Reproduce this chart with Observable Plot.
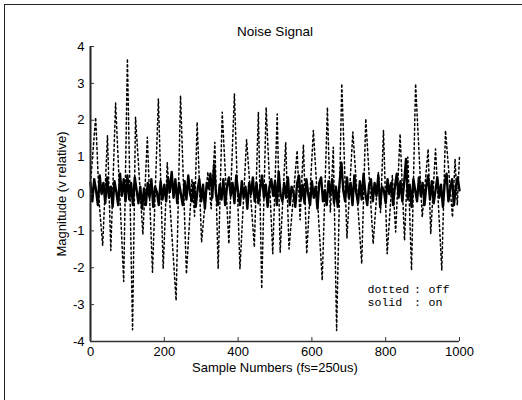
<!DOCTYPE html>
<html><head><meta charset="utf-8">
<script src="https://cdn.jsdelivr.net/npm/d3@7"></script>
<script src="https://cdn.jsdelivr.net/npm/@observablehq/plot@0.6"></script>
<style>
body{margin:0;background:#fff;}
#wrap{position:relative;width:522px;height:400px;overflow:hidden;}
#frame{position:absolute;left:4px;top:4px;width:530px;height:410px;border-top:1.5px solid #222;border-left:1px solid #222;pointer-events:none;}
</style></head><body>
<div id="wrap"><div id="chart"></div><div id="frame"></div></div>
<script>
const title = "Noise Signal";
const xLabel = "Sample Numbers (fs=250us)";
const yLabel = "Magnitude (v relative)";
const xTicks = [0, 200, 400, 600, 800, 1000];
const yTicks = [-4, -3, -2, -1, 0, 1, 2, 3, 4];
const legendKeys = ["dotted", "solid"];
const legendVals = ["off", "on"];

// dotted ("off") signal: sample numbers and magnitudes read at its turning points
const dottedX = [0,14,24,33,46,55,68,90,100,114,122,142,154,168,184,197,208,232,244,260,275,282,289,301,318,327,337,346,357,375,390,405,423,444,455,464,476,494,506,514,529,538,560,568,577,586,604,628,642,650,658,667,681,695,711,735,746,766,780,786,794,804,818,827,839,851,860,870,881,899,915,922,935,952,962,981,988,994,1000];
const dottedY = [0.3,2.08,-0.3,-1.4,1.58,-1.53,2.47,-2.37,3.67,-3.68,2.08,-1.1,1.54,-2.12,2.58,-2.03,0.85,-2.89,2.67,-2.17,0.4,-0.6,1.95,-1.31,0.6,-0.4,1.4,-2.03,2.22,-1.35,2.72,-2.03,1.47,-1.44,2.22,-2.57,2.35,-1.62,2.17,-1.58,1.4,-1.49,1.18,-0.7,1.34,-1.62,1.72,-2.34,2.35,-0.5,1.27,-3.7,2.99,-1.2,1.68,-1.89,2.04,-1.35,0.6,-0.5,1.72,-1.62,0.5,-1.03,1.63,-1.26,1.0,-2.07,2.99,-0.63,1.22,-1.08,1.22,-2.07,1.72,-0.63,0.95,-0.3,1.02];

// solid ("on") signal: magnitudes read every 5 samples
const solidStep = 5;
const solidY = [
 0.3,-0.2,0.4,0.1,-0.3,0.5,0.0,0.3,-0.25,0.45,
 -0.1,0.2,-0.35,0.35,0.05,-0.3,0.55,-0.05,0.4,-0.2,
 0.5,-0.15,0.3,-0.3,0.45,0.1,-0.25,0.2,-0.4,0.15,
 -0.3,0.3,-0.1,0.4,-0.35,0.2,0.05,-0.3,0.35,-0.15,
 0.25,-0.2,0.45,0.05,0.6,-0.1,0.4,-0.25,0.3,0.0,
 -0.3,0.35,-0.15,0.5,0.0,-0.2,0.3,-0.35,0.1,0.4,
 -0.2,0.25,-0.4,0.3,0.15,0.55,-0.1,0.8,0.0,-0.3,
 0.25,-0.15,0.4,-0.3,0.2,0.45,-0.05,0.3,-0.25,0.5,
 0.05,-0.3,0.35,-0.1,0.2,-0.4,0.3,0.0,0.45,-0.2,
 0.3,-0.25,0.15,0.5,-0.1,0.25,-0.35,0.2,0.4,-0.05,
 0.35,-0.3,0.6,0.0,-0.2,0.3,-0.1,0.45,-0.3,0.2,
 0.05,-0.35,0.3,0.5,-0.15,0.25,-0.25,0.4,0.0,-0.3,
 0.35,-0.1,0.2,-0.4,0.3,0.45,-0.2,0.1,-0.3,0.35,
 0.0,0.4,-0.25,0.2,-0.35,0.3,0.85,0.1,-0.2,0.45,
 -0.1,0.3,-0.3,0.5,0.05,-0.25,0.35,-0.15,0.55,0.0,
 -0.3,0.25,0.4,-0.2,0.3,-0.05,0.5,-0.35,0.2,0.1,
 -0.25,0.4,0.0,0.3,-0.3,0.2,0.55,-0.1,0.35,-0.2,
 0.3,0.95,-0.15,0.25,-0.35,0.4,0.1,-0.2,0.45,-0.05,
 0.3,-0.3,0.2,0.5,-0.15,0.35,-0.25,0.1,0.45,-0.1,
 0.25,-0.35,0.3,0.55,-0.2,0.15,0.4,-0.3,0.2,0.45,
 0.1];

const dotted = dottedX.map((x, i) => ({x, y: dottedY[i]}));
const solid = solidY.map((y, i) => ({x: i * solidStep, y}));

const W = 522, H = 400, mL = 90, mR = 63, mT = 46, mB = 59;
const plotW = W - mL - mR, plotH = H - mT - mB;
const mono = "'Liberation Mono', 'DejaVu Sans Mono', monospace";
const legendText = (data, dx, dy) => Plot.text(data, {frameAnchor: "top-left", lineAnchor: "middle", textAnchor: "start", dx, dy, text: d => d, fontFamily: mono, fontSize: 11.6});

const chart = Plot.plot({
  width: W, height: H,
  marginLeft: mL, marginRight: mR, marginTop: mT, marginBottom: mB,
  style: {fontFamily: "'Liberation Sans', Arial, sans-serif", fontSize: "13px", background: "transparent"},
  x: {domain: [0, 1000]},
  y: {domain: [-4, 4]},
  marks: [
    Plot.line(dotted, {x: "x", y: "y", stroke: "#000", strokeWidth: 1.5, strokeDasharray: "2,2.8"}),
    Plot.line(solid, {x: "x", y: "y", stroke: "#000", strokeWidth: 2.4}),
    Plot.ruleX([0], {y1: -4, y2: 4, stroke: "#222", strokeWidth: 2}),
    Plot.ruleY([-4], {x1: 0, x2: 1000, stroke: "#333", strokeWidth: 1.5}),
    Plot.tickY(yTicks, {y: d => d, insetRight: plotW - 4, stroke: "#333"}),
    Plot.tickX(xTicks, {x: d => d, insetTop: plotH - 4, stroke: "#333"}),
    Plot.axisY(yTicks, {tickSize: 0, tickPadding: 6, tickFormat: d => String(d), label: yLabel, labelAnchor: "center", labelOffset: 34, labelArrow: "none"}),
    Plot.axisX(xTicks, {tickSize: 0, tickPadding: 5, tickFormat: d => String(d), label: xLabel, labelAnchor: "center", labelOffset: 30, labelArrow: "none"}),
    Plot.text([title], {frameAnchor: "top", lineAnchor: "middle", dy: -14.5, fontSize: 13.5, text: d => d}),
    legendText([legendKeys[0]], 277, 243),
    legendText([legendKeys[1]], 277, 256),
    legendText([":"], 323.5, 243),
    legendText([":"], 323.5, 256),
    legendText([legendVals[0]], 338, 243),
    legendText([legendVals[1]], 338, 256),
  ]
});
document.getElementById("chart").append(chart);
</script>
</body></html>
